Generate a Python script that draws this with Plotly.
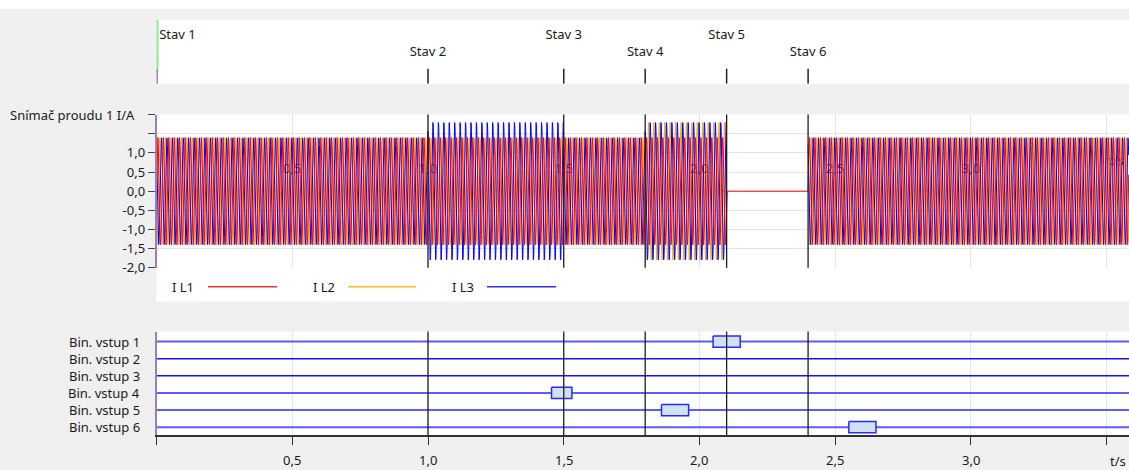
import numpy as np
import plotly.graph_objects as go

# ---------------- data ----------------
stav_names = ["Stav 1", "Stav 2", "Stav 3", "Stav 4", "Stav 5", "Stav 6"]
stav_times = [0.0, 1.0, 1.5, 1.8, 2.1, 2.4]

seg_start = [0.0, 1.0, 1.5, 1.8, 2.1, 2.4]
seg_end = [1.0, 1.5, 1.8, 2.1, 2.4, 3.582]
# None = phase not drawn in that interval (only I L1 is shown at zero there)
amp_IL1 = [1.4, 1.4, 1.4, 1.4, 0.0, 1.4]
amp_IL2 = [1.4, 1.4, 1.4, 1.8, None, 1.4]
amp_IL3 = [1.4, 1.8, 1.4, 1.8, None, 1.4]
phase_deg = {"I L1": 0.0, "I L2": -120.0, "I L3": 120.0}
FREQ_HZ = 50.0
SAMPLE_HZ = 1000.0

bin_labels = ["Bin. vstup 1", "Bin. vstup 2", "Bin. vstup 3",
              "Bin. vstup 4", "Bin. vstup 5", "Bin. vstup 6"]
event_bin = [1, 4, 5, 6]
event_start = [2.05, 1.455, 1.86, 2.55]
event_end = [2.15, 1.53, 1.96, 2.65]

x_tick_vals = [0.0, 0.5, 1.0, 1.5, 2.0, 2.5, 3.0, 3.5]
x_tick_text = ["", "0,5", "1,0", "1,5", "2,0", "2,5", "3,0", ""]
y_tick_vals = [-2.0, -1.5, -1.0, -0.5, 0.0, 0.5, 1.0, 1.5, 2.0]
y_tick_text = ["-2,0", "-1,5", "-1,0", "-0,5", "0,0", "0,5", "1,0", "", ""]
y_title = "Snímač proudu 1 I/A"
x_title = "t/s"

# ---------------- layout geometry ----------------
W = 1129
REF_H = 470          # rows of the target picture
HF = 477             # figure height (viewport is photographed into REF_H rows)
XMAX = seg_end[-1]
FONT = "Noto Sans"
FS = 13
TXT = "#1a1a1a"
GRID = "#e4e4e4"
AXIS_PURPLE = "#9a80b8"


def py(p):  # target pixel row -> paper y
    return 1.0 - p / REF_H


def px(p):
    return p / W


X_DOM = [px(156.5), 1.0]
Y_BOT = [py(437), py(333)]
Y_MID = [py(269), py(115)]
Y_TOP = [py(84), py(20)]

fig = go.Figure()

# ---------------- middle panel: currents ----------------
t = np.arange(0.0, XMAX, 1.0 / SAMPLE_HZ)
seg_idx = np.searchsorted(np.array(seg_end), t, side="right")
seg_idx = np.clip(seg_idx, 0, len(seg_end) - 1)

# inner axis labels (behind the data)
fig.add_trace(go.Scatter(
    x=x_tick_vals[1:-1], y=[0.57] * (len(x_tick_vals) - 2),
    text=x_tick_text[1:-1], mode="text", xaxis="x2", yaxis="y2",
    textfont=dict(family=FONT, size=FS, color=TXT), showlegend=False, hoverinfo="skip"))
fig.add_trace(go.Scatter(
    x=[3.535], y=[0.78], text=[x_title], mode="text", xaxis="x2", yaxis="y2",
    textfont=dict(family=FONT, size=FS, color=TXT), showlegend=False, hoverinfo="skip"))

series = [("I L2", amp_IL2, "#ffaa00"), ("I L3", amp_IL3, "#0000ff"), ("I L1", amp_IL1, "#ff0000")]
for name, amps, col in series:
    a = np.array([np.nan if v is None else v for v in amps], dtype=float)[seg_idx]
    y = a * np.sin(2 * np.pi * FREQ_HZ * t + np.deg2rad(phase_deg[name]))
    fig.add_trace(go.Scatter(x=t, y=y, mode="lines", name=name, xaxis="x2", yaxis="y2",
                             line=dict(color=col, width=1.0), connectgaps=False,
                             showlegend=False, hoverinfo="skip"))

# ---------------- bottom panel: binary inputs ----------------
bin_line_col = ["#5c5cff", "#1414ee", "#1414ee", "#5c5cff", "#5c5cff", "#5c5cff"]
bin_line_w = [2, 1.5, 1.5, 2, 2, 2]
for i, lab in enumerate(bin_labels):
    fig.add_trace(go.Scatter(x=[0, XMAX], y=[i + 1, i + 1], mode="lines", xaxis="x", yaxis="y",
                             line=dict(color=bin_line_col[i], width=bin_line_w[i]),
                             showlegend=False, hoverinfo="skip"))
HB = 0.33
for b, s, e in zip(event_bin, event_start, event_end):
    fig.add_trace(go.Scatter(x=[s, e, e, s, s], y=[b - HB, b - HB, b + HB, b + HB, b - HB],
                             mode="lines", fill="toself", fillcolor="#d0e1f3",
                             line=dict(color="#2a2aff", width=1.5), xaxis="x", yaxis="y",
                             showlegend=False, hoverinfo="skip"))

# ---------------- top panel: states ----------------
fig.add_trace(go.Scatter(x=[stav_times[0], stav_times[0]], y=[0.234, 1.0], mode="lines",
                         line=dict(color="#8fe88f", width=4), xaxis="x3", yaxis="y3",
                         showlegend=False, hoverinfo="skip"))
for i, (nm, tt) in enumerate(zip(stav_names, stav_times)):
    fig.add_trace(go.Scatter(x=[tt, tt], y=[0.0, 0.234], mode="lines",
                             line=dict(color="#9a80b8" if i == 0 else "#222222",
                                       width=3 if i == 0 else 1.5),
                             xaxis="x3", yaxis="y3", showlegend=False, hoverinfo="skip"))
    lvl = 0.75 if i % 2 == 0 else 0.48
    fig.add_trace(go.Scatter(x=[tt + (0.01 if i == 0 else 0.0)], y=[lvl], text=[nm], mode="text",
                             textposition="middle right" if i == 0 else "middle center",
                             textfont=dict(family=FONT, size=FS, color=TXT),
                             xaxis="x3", yaxis="y3", showlegend=False, hoverinfo="skip"))

# state lines through middle and bottom panels
shapes = []
for tt in stav_times[1:]:
    for yr in ("y2 domain", "y domain"):
        shapes.append(dict(type="line", xref="x", yref=yr, x0=tt, x1=tt, y0=0, y1=1,
                           line=dict(color="#1e1e1e", width=1.3), layer="above"))

# white backgrounds
shapes.append(dict(type="rect", xref="paper", yref="paper", x0=0, x1=1, y0=py(9), y1=1,
                   fillcolor="white", line=dict(width=0), layer="below"))
shapes.append(dict(type="rect", xref="paper", yref="paper", x0=X_DOM[0], x1=1, y0=py(303), y1=py(269),
                   fillcolor="white", line=dict(width=0), layer="below"))

# manual legend
legend_items = [("I L1", "#ff3030", 170, 208, 277), ("I L2", "#ffbb30", 311, 348, 416),
                ("I L3", "#3030ff", 450, 487, 556)]
annotations = []
for nm, col, tx, l0, l1 in legend_items:
    annotations.append(dict(text=nm, x=px(tx), y=py(288), xref="paper", yref="paper",
                            xanchor="left", yanchor="middle", showarrow=False,
                            font=dict(family=FONT, size=FS, color=TXT)))
    shapes.append(dict(type="line", xref="paper", yref="paper", x0=px(l0), x1=px(l1),
                       y0=py(288), y1=py(288), line=dict(color=col, width=1.5)))

annotations.append(dict(text=y_title, x=px(137), y=py(115), xref="paper", yref="paper",
                        xanchor="right", yanchor="middle", showarrow=False,
                        font=dict(family=FONT, size=FS, color=TXT)))
# bin labels
for i, lab in enumerate(bin_labels):
    annotations.append(dict(text=lab, x=px(142), y=i + 1, xref="paper", yref="y",
                            xanchor="right", yanchor="middle", showarrow=False,
                            font=dict(family=FONT, size=FS, color=TXT)))
# bottom axis tick labels
for v, tx in zip(x_tick_vals, x_tick_text):
    if tx:
        annotations.append(dict(text=tx, x=v, y=py(462), xref="x", yref="paper",
                                xanchor="center", yanchor="middle", showarrow=False,
                                font=dict(family=FONT, size=FS, color=TXT)))
annotations.append(dict(text=x_title, x=3.54, y=py(463), xref="x", yref="paper",
                        xanchor="center", yanchor="middle", showarrow=False,
                        font=dict(family=FONT, size=FS, color=TXT)))

common_x = dict(range=[0, XMAX], domain=X_DOM, zeroline=False)

fig.update_layout(
    width=W, height=HF,
    margin=dict(l=0, r=0, t=0, b=0),
    paper_bgcolor="#f0f0f0", plot_bgcolor="white",
    showlegend=False,
    font=dict(family=FONT, size=FS, color=TXT),
    xaxis=dict(**common_x, anchor="y", tickvals=x_tick_vals, showticklabels=False,
               ticks="outside", ticklen=8, tickcolor="#333333", showline=True,
               linecolor="#333333", linewidth=1.5, showgrid=True, gridcolor=GRID),
    yaxis=dict(domain=Y_BOT, range=[6.465, 0.419], anchor="x", tickvals=[1, 2, 3, 4, 5, 6],
               showticklabels=False, ticks="", showgrid=False, zeroline=False,
               showline=True, linecolor=AXIS_PURPLE, linewidth=1.5),
    xaxis2=dict(**common_x, anchor="y2", matches="x", tickvals=x_tick_vals, showticklabels=False,
                ticks="", showgrid=True, gridcolor=GRID, showline=False),
    yaxis2=dict(domain=Y_MID, range=[-2, 2], anchor="x2", tickvals=y_tick_vals,
                ticktext=y_tick_text, ticks="outside", ticklen=7, tickcolor="#444444",
                showgrid=True, gridcolor=GRID, zeroline=False, showline=True,
                linecolor=AXIS_PURPLE, linewidth=1.5,
                tickfont=dict(family=FONT, size=FS, color=TXT)),
    xaxis3=dict(**common_x, anchor="y3", matches="x", visible=False),
    yaxis3=dict(domain=Y_TOP, range=[0, 1], anchor="x3", visible=False),
    shapes=shapes,
    annotations=annotations,
)

fig.write_html("out.html", config={"displayModeBar": False},
               post_script="document.body.style.margin='0px';"
                           "document.body.style.background='#f0f0f0';")
